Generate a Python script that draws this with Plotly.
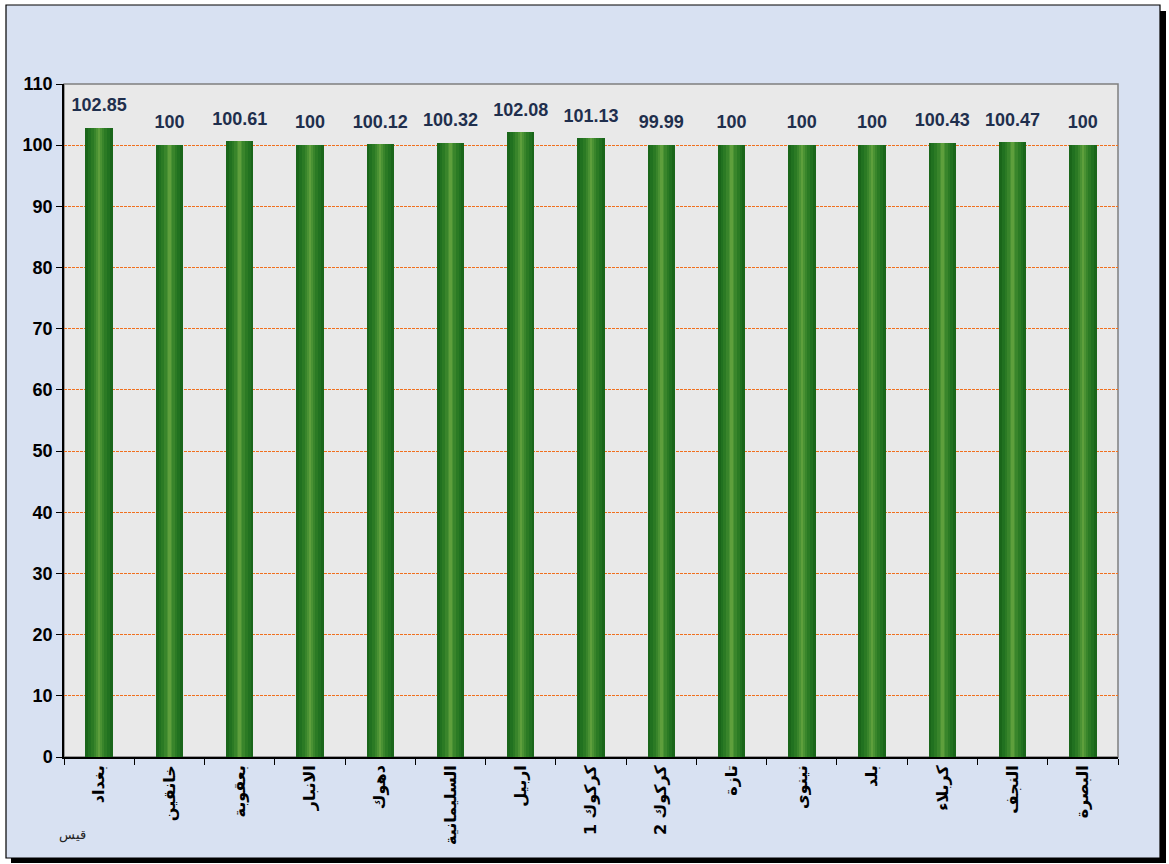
import plotly.graph_objects as go

# Category names (Arabic) and bar values
regions = ["بغداد", "خانقين", "بعقوبة", "الانبار", "دهوك", "السليمانية", "اربيل",
           "كركوك 1", "كركوك 2", "تازة", "نينوى", "بلد", "كربلاء", "النجف", "البصرة"]
values = [102.85, 100, 100.61, 100, 100.12, 100.32, 102.08, 101.13,
          99.99, 100, 100, 100, 100.43, 100.47, 100]
y_ticks = [0, 10, 20, 30, 40, 50, 60, 70, 80, 90, 100, 110]

W, H = 1169, 864
PL, PR, PT, PB = 64, 1118, 84, 757  # plot area in pixels


def px_x(px):
    return (px - PL) / (PR - PL)


def px_y(py):
    return (PB - py) / (PB - PT)


fig = go.Figure()

# Layered bars give a cylinder-like shading: dark edges, lighter middle
layers = [(0.39, "#1a661a"), (0.31, "#217120"), (0.23, "#2b7a24"),
          (0.15, "#39852b"), (0.08, "#4a9233"), (0.035, "#5e9f3c")]
for w, c in layers:
    fig.add_trace(go.Bar(x=regions, y=values, width=w, marker=dict(color=c, line=dict(width=0)),
                         hoverinfo="skip", showlegend=False))

# Value labels above each bar
fig.add_trace(go.Scatter(
    x=regions, y=values, mode="markers+text",
    text=[f"{v:g}" for v in values], textposition="top center",
    marker=dict(size=18, opacity=0),
    textfont=dict(family="Arial", size=18, color="#1f2f4d", weight="bold"),
    hoverinfo="skip", showlegend=False, cliponaxis=False))

shapes = [
    # drop shadow of the outer frame
    dict(type="rect", xref="paper", yref="paper", x0=px_x(1160), x1=px_x(1166),
         y0=px_y(11), y1=px_y(863), fillcolor="black", line=dict(width=0), layer="below"),
    dict(type="rect", xref="paper", yref="paper", x0=px_x(11), x1=px_x(1166),
         y0=px_y(858), y1=px_y(863), fillcolor="black", line=dict(width=0), layer="below"),
    # outer frame
    dict(type="rect", xref="paper", yref="paper", x0=px_x(6), x1=px_x(1160),
         y0=px_y(5), y1=px_y(858), fillcolor="#d8e1f2", line=dict(color="black", width=1.2),
         layer="below"),
    # plot area
    dict(type="rect", xref="paper", yref="paper", x0=0, x1=1, y0=0, y1=1,
         fillcolor="#e9e9e9", line=dict(color="#7f7f7f", width=1.5), layer="below"),
]

fig.update_layout(
    width=W, height=H,
    margin=dict(l=PL, r=W - PR, t=PT, b=H - PB, pad=0),
    paper_bgcolor="white", plot_bgcolor="rgba(0,0,0,0)",
    barmode="overlay", bargap=0,
    shapes=shapes,
    annotations=[dict(text="قيس", xref="paper", yref="paper", x=px_x(57), y=px_y(845),
                      showarrow=False, font=dict(family="Arial", size=13, color="#222"))],
    xaxis=dict(
        type="category", range=[-0.5, len(regions) - 0.5],
        tickson="boundaries", ticks="outside", ticklen=6,
        tickcolor="black", showline=True, linecolor="black", linewidth=1.5,
        tickangle=-90, showgrid=False,
        tickfont=dict(family="DejaVu Sans, Arial", size=16, color="black", weight="bold"),
    ),
    yaxis=dict(
        range=[0, 110], tickvals=y_ticks, ticks="outside", ticklen=6, tickcolor="black",
        showline=True, linecolor="black", linewidth=1.5,
        showgrid=True, gridcolor="#f0701e", griddash="3px,1px", gridwidth=1.4,
        zeroline=False,
        tickfont=dict(family="Arial", size=18, color="black", weight="bold"),
    ),
)

fig.write_html("out.html")
